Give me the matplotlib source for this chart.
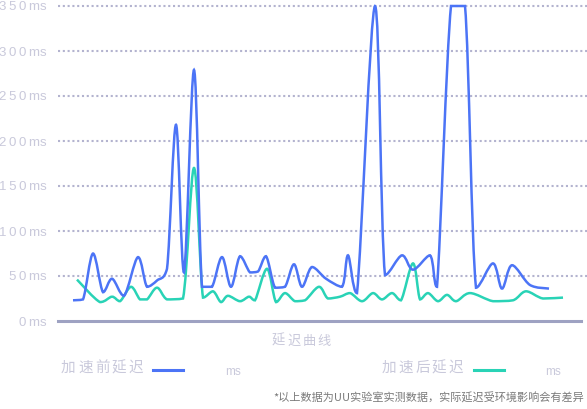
import matplotlib
matplotlib.use("Agg")
import matplotlib.pyplot as plt
from matplotlib.path import Path
from matplotlib.patches import PathPatch
import numpy as np

plt.rcParams['font.family'] = ['Noto Sans CJK SC', 'DejaVu Sans']

# latency samples (x = sample time, y = ms)
before_x = [15, 25, 35, 45, 54, 66, 80, 89, 99, 109, 118, 126, 136, 144, 154,
            164, 173, 182, 192, 200, 208, 217, 227, 236, 244, 254, 268, 284, 290, 299,
            317, 327, 344, 355, 372, 379, 393, 407, 418, 435, 444, 454, 472, 491]
before_ms = [23, 24, 75, 32, 47, 28, 71, 38, 45, 58, 218, 54, 279, 38, 38,
             71, 38, 72, 54, 55, 72, 37, 38, 63, 38, 60, 47, 38, 73, 31,
             350, 51, 73, 57, 73, 38, 350, 350, 37, 64, 36, 62, 40, 36]

after_x = [19, 42, 54, 62, 73, 82, 89, 99, 109, 125, 136, 145, 155, 163, 170,
           182, 191, 197, 209, 218, 227, 237, 247, 261, 270, 282, 292, 304, 315, 324,
           334, 343, 355, 362, 370, 380, 389, 398, 412, 435, 455, 468, 485, 505]
after_ms = [46, 21, 27, 22, 38, 24, 24, 37, 24, 25, 170, 26, 33, 21, 28,
            22, 27, 23, 58, 21, 31, 22, 23, 38, 25, 27, 31, 22, 31, 24,
            31, 23, 64, 24, 31, 22, 29, 22, 31, 22, 23, 33, 25, 26]

y_ticks = [0, 50, 100, 150, 200, 250, 300, 350]
series_names = ['加速前延迟', '加速后延迟']
x_title = '延迟曲线'
note = '*以上数据为UU实验室实测数据，实际延迟受环境影响会有差异'

BLUE = '#4c74f6'
GREEN = '#29d3b6'
LIGHT = '#c9c9db'

W, H = 587, 409


def smooth_path(xs, ys, k=1.0):
    # cubic bezier through the points, control points clamped per segment
    p = np.column_stack([xs, ys]).astype(float)
    n = len(p)
    verts = [p[0]]
    codes = [Path.MOVETO]
    for i in range(n - 1):
        p0 = p[max(i - 1, 0)]
        p1 = p[i]
        p2 = p[i + 1]
        p3 = p[min(i + 2, n - 1)]
        c1 = p1 + (p2 - p0) / 6 * k
        c2 = p2 - (p3 - p1) / 6 * k
        lo, hi = min(p1[1], p2[1]), max(p1[1], p2[1])
        c1[1] = np.clip(c1[1], lo, hi)
        c2[1] = np.clip(c2[1], lo, hi)
        c1[0] = np.clip(c1[0], p1[0], p2[0])
        c2[0] = np.clip(c2[0], p1[0], p2[0])
        verts += [c1, c2, p2]
        codes += [Path.CURVE4] * 3
    return Path(verts, codes)


def spaced(fig, x, y, s, size, step, color):
    # place CJK characters one by one to get the wide letter spacing
    for i, ch in enumerate(s):
        fig.text((x + i * step) / W, 1 - y / H, ch, fontsize=size, color=color,
                 ha='left', va='center')


fig = plt.figure(figsize=(W / 100, H / 100), dpi=100)
ax = fig.add_axes([58 / W, 1 - 321 / H, (W - 58) / W, (321 - 6) / H])
ax.set_xlim(0, W - 58)
ax.set_ylim(0, 350)

for spine in ax.spines.values():
    spine.set_visible(False)
ax.set_xticks([])
ax.set_yticks(y_ticks)
ax.set_yticklabels(['\u2009'.join(str(v)) + '\u2009ms' for v in y_ticks],
                   family='Liberation Sans', fontsize=9.5, color=LIGHT)
ax.tick_params(axis='y', length=0, pad=8)

for v in y_ticks[1:]:
    ax.axhline(v, color='#b3b3cf', lw=1.5, ls=(0, (1, 1.3)), zorder=1, clip_on=False)
ax.axhline(0, xmax=(581 - 58) / (W - 58), color='#9ea2c2', lw=2.2, zorder=2,
           clip_on=False)

ax.add_patch(PathPatch(smooth_path(after_x, after_ms), fill=False, ec=GREEN,
                       lw=1.8, zorder=3, clip_on=False))
ax.add_patch(PathPatch(smooth_path(before_x, before_ms), fill=False, ec=BLUE,
                       lw=1.8, zorder=4, clip_on=False))

spaced(fig, 272, 341, x_title, 9.5, 15.2, LIGHT)

spaced(fig, 61, 368, series_names[0], 10.5, 16.9, LIGHT)
fig.add_artist(plt.Line2D([153 / W, 183 / W], [1 - 370 / H] * 2, color=BLUE, lw=2.2))
fig.text(225 / W, 1 - 372 / H, 'ms', fontsize=8.5, color=LIGHT, family='Liberation Sans',
         ha='left', va='center')

spaced(fig, 382, 368, series_names[1], 10.5, 16.6, LIGHT)
fig.add_artist(plt.Line2D([474 / W, 504 / W], [1 - 370 / H] * 2, color=GREEN, lw=2.2))
fig.text(545 / W, 1 - 372 / H, 'ms', fontsize=8.5, color=LIGHT, family='Liberation Sans',
         ha='left', va='center')

fig.text(584 / W, 1 - 398 / H, note, fontsize=8.0, color='#7a7a7a', ha='right', va='center')

fig.savefig('out.png', dpi=100)
